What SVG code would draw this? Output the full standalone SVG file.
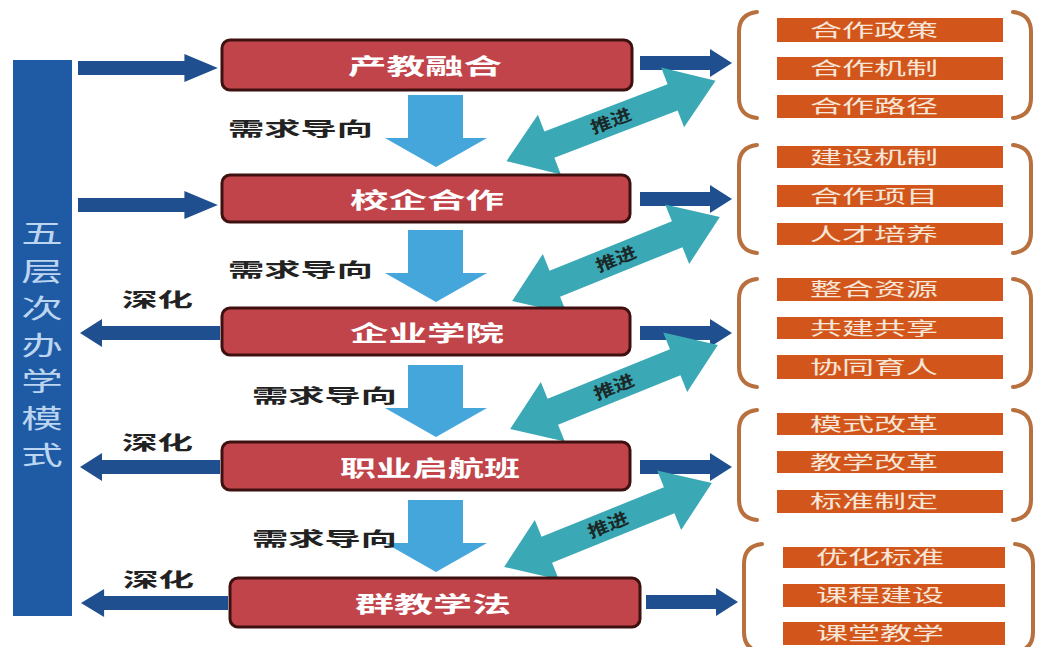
<svg xmlns="http://www.w3.org/2000/svg" width="1044" height="647" viewBox="0 0 1044 647">
<defs>
<style>
.cn{font-family:"Noto Sans CJK SC","Noto Sans",sans-serif;}
.node rect{fill:#C1444B;stroke:#3E1010;stroke-width:3;}
.node text{fill:#FFFFFF;font-size:22px;font-weight:bold;text-anchor:middle;}
.lbl{fill:#222222;font-size:19px;font-weight:bold;}
.dk{fill:#1F4F8E;}
.lb{fill:#45A6DB;}
.tl{fill:#3BA9B5;}
.tlt{fill:#1A2828;font-size:17px;font-weight:bold;text-anchor:middle;}
.br{fill:none;stroke:#B8703F;stroke-width:4;stroke-linecap:round;}
.ob{fill:#D2561C;}
.ot{fill:#F8E6D8;font-size:18px;text-anchor:middle;}
.vt{fill:#BCD5F0;font-size:26px;text-anchor:middle;}
</style>
<polygon id="tarrow" points="-112,0 -66,-32 -66,-14 66,-14 66,-32 112,0 66,32 66,14 -66,14 -66,32"/>
<polygon id="rarrow" points="0,-7 70,-7 70,-14 92,0 70,14 70,7 0,7"/>
<polygon id="larrow" points="0,-7 -118,-7 -118,-14 -140,0 -118,14 -118,7 0,7"/>
<polygon id="darrow" points="408,0 463,0 463,43 487,43 436,72 385,43 408,43"/>
</defs>
<rect width="1044" height="647" fill="#FFFFFF"/>

<g id="side-bar">
<rect x="13" y="60" width="59" height="556" fill="#1F5BA5"/>
<g class="cn vt">
<text transform="translate(42,243) scale(1.6,1)">五</text>
<text transform="translate(42,281) scale(1.6,1)">层</text>
<text transform="translate(42,318) scale(1.6,1)">次</text>
<text transform="translate(42,355) scale(1.6,1)">办</text>
<text transform="translate(42,391) scale(1.6,1)">学</text>
<text transform="translate(42,428) scale(1.6,1)">模</text>
<text transform="translate(42,465) scale(1.6,1)">式</text>
</g>
</g>

<g id="connectors">
<use href="#rarrow" class="dk" transform="translate(78,68) scale(1.52,1)"/>
<use href="#rarrow" class="dk" transform="translate(78,205) scale(1.52,1)"/>
<use href="#larrow" class="dk" transform="translate(220,333)"/>
<use href="#larrow" class="dk" transform="translate(220,467)"/>
<use href="#larrow" class="dk" transform="translate(228,603) scale(1.05,1)"/>

<use href="#rarrow" class="dk" transform="translate(640,63)"/>
<use href="#rarrow" class="dk" transform="translate(640,199)"/>
<use href="#rarrow" class="dk" transform="translate(640,333)"/>
<use href="#rarrow" class="dk" transform="translate(640,467)"/>
<use href="#rarrow" class="dk" transform="translate(646,602)"/>

<use href="#darrow" class="lb" transform="translate(0,95)"/>
<use href="#darrow" class="lb" transform="translate(0,230)"/>
<use href="#darrow" class="lb" transform="translate(0,365)"/>
<use href="#darrow" class="lb" transform="translate(0,500)"/>

<g transform="translate(611,121) rotate(-21)"><use href="#tarrow" class="tl"/><text class="cn tlt" y="6" textLength="42" lengthAdjust="spacingAndGlyphs">推进</text></g>
<g transform="translate(616,259) rotate(-22)"><use href="#tarrow" class="tl"/><text class="cn tlt" y="6" textLength="42" lengthAdjust="spacingAndGlyphs">推进</text></g>
<g transform="translate(614,387) rotate(-22)"><use href="#tarrow" class="tl"/><text class="cn tlt" y="6" textLength="42" lengthAdjust="spacingAndGlyphs">推进</text></g>
<g transform="translate(608,525) rotate(-22)"><use href="#tarrow" class="tl"/><text class="cn tlt" y="6" textLength="42" lengthAdjust="spacingAndGlyphs">推进</text></g>

<g class="cn lbl">
<text x="228" y="136" textLength="145" lengthAdjust="spacingAndGlyphs">需求导向</text>
<text x="228" y="277" textLength="145" lengthAdjust="spacingAndGlyphs">需求导向</text>
<text x="252" y="403" textLength="145" lengthAdjust="spacingAndGlyphs">需求导向</text>
<text x="252" y="546" textLength="145" lengthAdjust="spacingAndGlyphs">需求导向</text>
<text x="122" y="307" textLength="71" lengthAdjust="spacingAndGlyphs">深化</text>
<text x="122" y="450" textLength="71" lengthAdjust="spacingAndGlyphs">深化</text>
<text x="123" y="587" textLength="71" lengthAdjust="spacingAndGlyphs">深化</text>
</g>
</g>

<g id="node-1" class="node cn"><rect x="222" y="40" width="410" height="50" rx="8"/><text x="425" y="74" textLength="154" lengthAdjust="spacingAndGlyphs">产教融合</text></g>
<g id="node-2" class="node cn"><rect x="222" y="175" width="408" height="47" rx="8"/><text x="427" y="208" textLength="154" lengthAdjust="spacingAndGlyphs">校企合作</text></g>
<g id="node-3" class="node cn"><rect x="222" y="308" width="408" height="47" rx="8"/><text x="427" y="341" textLength="154" lengthAdjust="spacingAndGlyphs">企业学院</text></g>
<g id="node-4" class="node cn"><rect x="222" y="442" width="408" height="48" rx="8"/><text x="430" y="476" textLength="180" lengthAdjust="spacingAndGlyphs">职业启航班</text></g>
<g id="node-5" class="node cn"><rect x="230" y="578" width="410" height="49" rx="8"/><text x="433" y="612" textLength="156" lengthAdjust="spacingAndGlyphs">群教学法</text></g>

<g id="group-1" class="cn">
<path class="br" d="M757,12 Q739,14 739,32 L739,98 Q739,116 757,118"/>
<path class="br" d="M1013,12 Q1031,14 1031,32 L1031,98 Q1031,116 1013,118"/>
<rect class="ob" x="777" y="18" width="226" height="24"/><text class="ot" x="874" y="37" textLength="128" lengthAdjust="spacingAndGlyphs">合作政策</text>
<rect class="ob" x="777" y="57" width="226" height="23"/><text class="ot" x="874" y="75" textLength="128" lengthAdjust="spacingAndGlyphs">合作机制</text>
<rect class="ob" x="777" y="95" width="226" height="23"/><text class="ot" x="874" y="113" textLength="128" lengthAdjust="spacingAndGlyphs">合作路径</text>
</g>
<g id="group-2" class="cn">
<path class="br" d="M757,145 Q739,147 739,165 L739,233 Q739,251 757,253"/>
<path class="br" d="M1013,145 Q1031,147 1031,165 L1031,233 Q1031,251 1013,253"/>
<rect class="ob" x="777" y="146" width="226" height="22"/><text class="ot" x="874" y="164" textLength="128" lengthAdjust="spacingAndGlyphs">建设机制</text>
<rect class="ob" x="777" y="185" width="226" height="22"/><text class="ot" x="874" y="203" textLength="128" lengthAdjust="spacingAndGlyphs">合作项目</text>
<rect class="ob" x="777" y="223" width="226" height="22"/><text class="ot" x="874" y="241" textLength="128" lengthAdjust="spacingAndGlyphs">人才培养</text>
</g>
<g id="group-3" class="cn">
<path class="br" d="M757,279 Q739,281 739,299 L739,367 Q739,385 757,387"/>
<path class="br" d="M1013,279 Q1031,281 1031,299 L1031,367 Q1031,385 1013,387"/>
<rect class="ob" x="777" y="278" width="226" height="23"/><text class="ot" x="874" y="296" textLength="128" lengthAdjust="spacingAndGlyphs">整合资源</text>
<rect class="ob" x="777" y="317" width="226" height="22"/><text class="ot" x="874" y="335" textLength="128" lengthAdjust="spacingAndGlyphs">共建共享</text>
<rect class="ob" x="777" y="355" width="226" height="24"/><text class="ot" x="874" y="374" textLength="128" lengthAdjust="spacingAndGlyphs">协同育人</text>
</g>
<g id="group-4" class="cn">
<path class="br" d="M757,410 Q739,412 739,430 L739,500 Q739,518 757,520"/>
<path class="br" d="M1013,410 Q1031,412 1031,430 L1031,500 Q1031,518 1013,520"/>
<rect class="ob" x="777" y="413" width="226" height="22"/><text class="ot" x="874" y="431" textLength="128" lengthAdjust="spacingAndGlyphs">模式改革</text>
<rect class="ob" x="777" y="451" width="226" height="22"/><text class="ot" x="874" y="469" textLength="128" lengthAdjust="spacingAndGlyphs">教学改革</text>
<rect class="ob" x="777" y="490" width="226" height="23"/><text class="ot" x="874" y="508" textLength="128" lengthAdjust="spacingAndGlyphs">标准制定</text>
</g>
<g id="group-5" class="cn">
<path class="br" d="M762,544 Q744,546 744,564 L744,632 Q744,650 762,652"/>
<path class="br" d="M1015,544 Q1033,546 1033,564 L1033,632 Q1033,650 1015,652"/>
<rect class="ob" x="783" y="547" width="222" height="21"/><text class="ot" x="880" y="564" textLength="128" lengthAdjust="spacingAndGlyphs">优化标准</text>
<rect class="ob" x="783" y="584" width="222" height="23"/><text class="ot" x="880" y="602" textLength="128" lengthAdjust="spacingAndGlyphs">课程建设</text>
<rect class="ob" x="783" y="622" width="222" height="23"/><text class="ot" x="880" y="640" textLength="128" lengthAdjust="spacingAndGlyphs">课堂教学</text>
</g>
</svg>
